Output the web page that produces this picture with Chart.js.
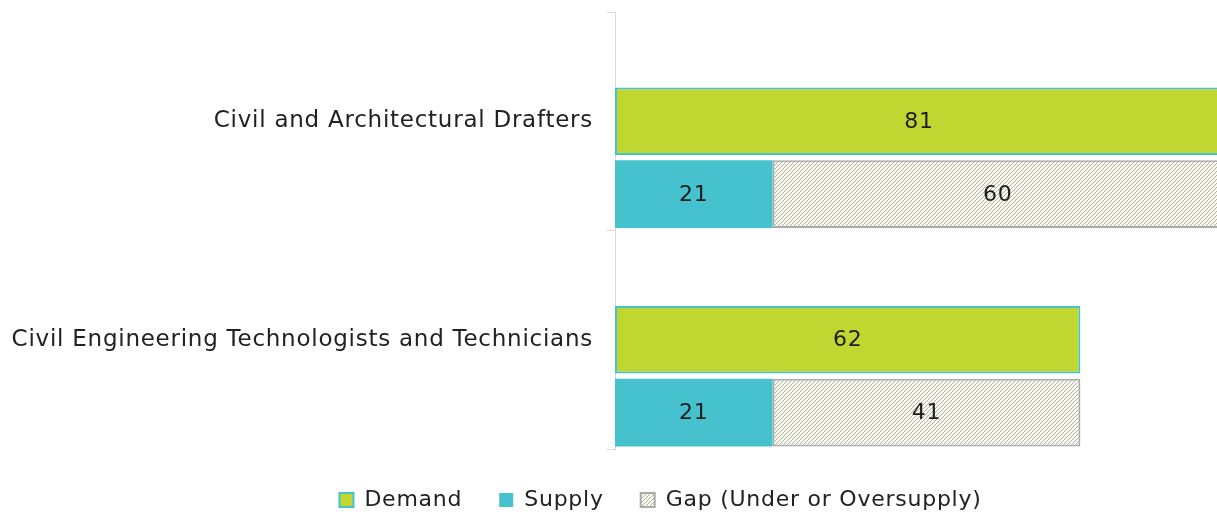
<!DOCTYPE html>
<html>
<head>
<meta charset="utf-8">
<script src="https://cdn.jsdelivr.net/npm/chart.js@4/dist/chart.umd.min.js"></script>
<style>
  html, body { margin: 0; padding: 0; background: #fff; }
  #wrap { width: 1217px; height: 518px; position: relative; }
</style>
</head>
<body>
<div id="wrap"><canvas id="chart"></canvas></div>
<script>
// data
var occupations = ['Civil and Architectural Drafters', 'Civil Engineering Technologists and Technicians']
var demand = [81, 62]
var supply = [21, 21]
var gap = [60, 41]
var seriesNames = ['Demand', 'Supply', 'Gap (Under or Oversupply)']

var FONT = '"DejaVu Sans", sans-serif'

// hatch for the gap bars
var hatch = (function () {
  var c = document.createElement('canvas')
  c.width = 4
  c.height = 4
  var g = c.getContext('2d')
  g.fillStyle = '#fafaec'
  g.fillRect(0, 0, 4, 4)
  g.fillStyle = '#b0b0b0'
  for (var i = 0; i < 4; i++) {
    g.fillRect(3 - i, i, 1, 1)
  }
  return g.createPattern(c, 'repeat')
})()

// wider letters, closer to the original typeface
var spacing = {
  id: 'spacing',
  beforeInit: function (chart) { chart.ctx.letterSpacing = '0.75px' },
  beforeLayout: function (chart) { chart.ctx.letterSpacing = '0.75px' },
  beforeDraw: function (chart) { chart.ctx.letterSpacing = '0.75px' },
  // the original legend sits centred under the plot, a bit right of the page centre
  afterLayout: function (chart) {
    chart.legend.left += 52
    chart.legend.right += 52
    chart.legend.top += 3
    chart.legend.bottom += 3
  }
}

var barLabels = {
  id: 'barLabels',
  afterDatasetsDraw: function (chart) {
    var ctx = chart.ctx
    ctx.save()
    ctx.font = '22px ' + FONT
    ctx.fillStyle = '#1e1e1e'
    ctx.textAlign = 'center'
    ctx.textBaseline = 'middle'
    chart.data.datasets.forEach(function (ds, i) {
      if (ds.hidden_slot) return
      var meta = chart.getDatasetMeta(i)
      meta.data.forEach(function (el, j) {
        var v = ds.data[j]
        if (v == null) return
        ctx.fillText(v, (el.x + el.base) / 2, el.y + 1)
      })
    })
    ctx.restore()
  }
}

new Chart(document.getElementById('chart'), {
  type: 'bar',
  data: {
    labels: occupations,
    datasets: [
      {
        label: '',
        hidden_slot: true,
        data: [null, null],
        stack: 's0',
        backgroundColor: 'rgba(0,0,0,0)'
      },
      {
        label: seriesNames[0],
        data: demand,
        stack: 's1',
        backgroundColor: '#bfd730',
        borderColor: '#45c2ce',
        borderWidth: 2
      },
      {
        label: seriesNames[1],
        data: supply,
        stack: 's2',
        backgroundColor: '#45c2ce',
        borderColor: '#45c2ce',
        borderWidth: 0
      },
      {
        label: seriesNames[2],
        data: gap,
        stack: 's2',
        backgroundColor: hatch,
        borderColor: '#ababab',
        borderWidth: 2
      }
    ]
  },
  options: {
    indexAxis: 'y',
    responsive: true,
    maintainAspectRatio: false,
    animation: false,
    layout: { padding: { top: 12, right: 0, bottom: 0, left: 0 } },
    datasets: {
      bar: { categoryPercentage: 1.0, barPercentage: 0.93, borderSkipped: false }
    },
    scales: {
      x: {
        display: false,
        stacked: true,
        min: 0,
        max: 80.2
      },
      y: {
        stacked: true,
        grid: {
          drawOnChartArea: false,
          tickLength: 8,
          color: '#d9d9d9'
        },
        border: { color: '#d9d9d9', width: 1 },
        ticks: {
          color: '#222',
          padding: 14,
          font: { family: FONT, size: 23 }
        },
        afterFit: function (scale) {
          scale.width = 615
          scale.paddingTop = 0
          scale.paddingBottom = 0
        }
      }
    },
    plugins: {
      tooltip: { enabled: false },
      legend: {
        position: 'bottom',
        labels: {
          filter: function (item) { return item.text !== '' },
          boxWidth: 14,
          boxHeight: 14,
          padding: 37,
          color: '#222',
          font: { family: FONT, size: 22 }
        }
      }
    }
  },
  plugins: [spacing, barLabels]
})
</script>
</body>
</html>
